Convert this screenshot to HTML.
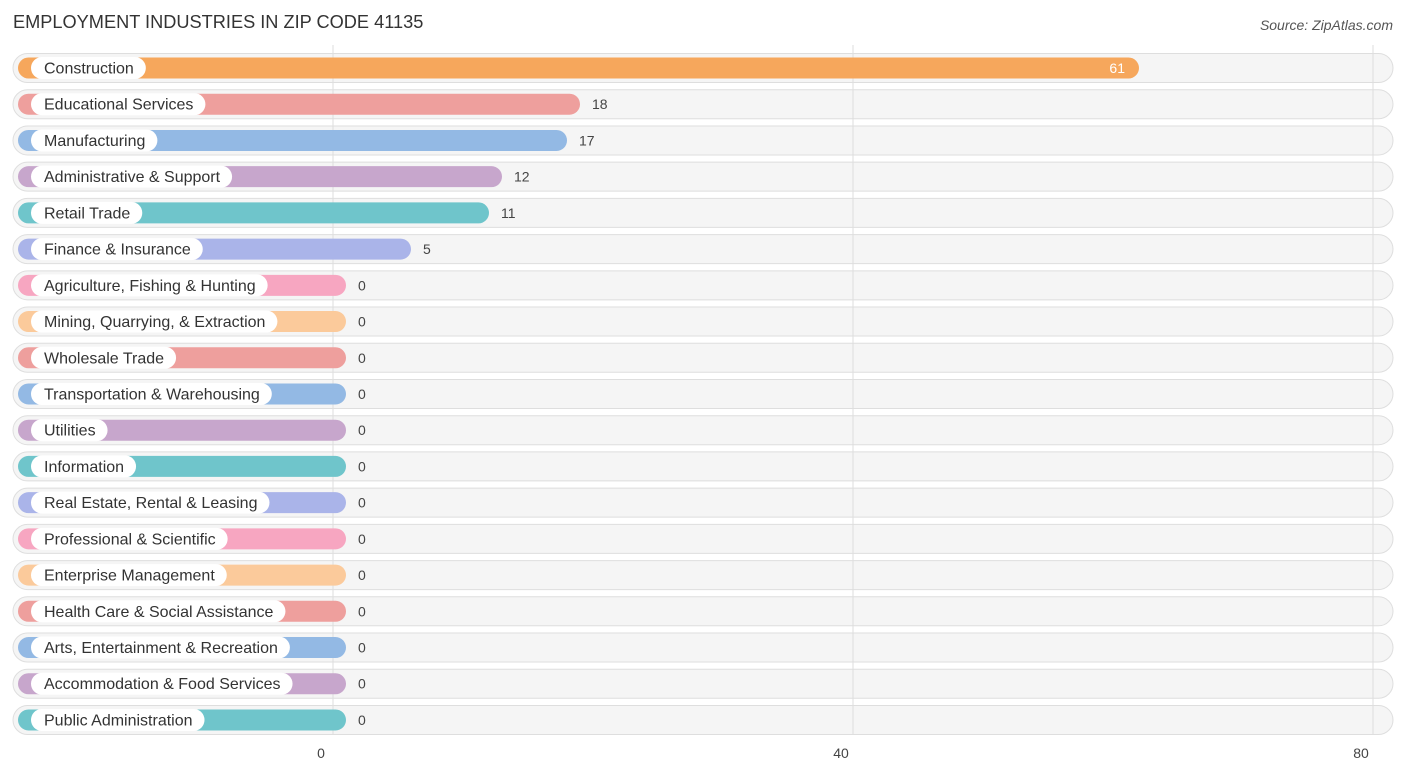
<!DOCTYPE html>
<html><head><meta charset="utf-8"><style>
html,body{margin:0;padding:0;background:#fff;}
body{width:1406px;height:776px;overflow:hidden;font-family:"Liberation Sans",sans-serif;}
</style></head><body>
<svg id="chart" width="1406" height="776" xmlns="http://www.w3.org/2000/svg" font-family="Liberation Sans, sans-serif">
<text x="13" y="28" font-size="18.2" fill="#333">EMPLOYMENT INDUSTRIES IN ZIP CODE 41135</text>
<text x="1393" y="30" font-size="14" fill="#555" text-anchor="end" font-style="italic">Source: ZipAtlas.com</text>
<g id="bgs"></g><g id="grid"></g><g id="rows"></g><g id="ticks"></g>
</svg>
<script>
const categories=["Construction","Educational Services","Manufacturing","Administrative & Support","Retail Trade","Finance & Insurance","Agriculture, Fishing & Hunting","Mining, Quarrying, & Extraction","Wholesale Trade","Transportation & Warehousing","Utilities","Information","Real Estate, Rental & Leasing","Professional & Scientific","Enterprise Management","Health Care & Social Assistance","Arts, Entertainment & Recreation","Accommodation & Food Services","Public Administration"];
const values=[61,18,17,12,11,5,0,0,0,0,0,0,0,0,0,0,0,0,0];
const tickValues=[0,40,80];
const palette=["#f6a75c","#ee9f9d","#93b9e4","#c7a6cc","#6fc5cb","#aab4e9","#f7a6c1","#fbca9b"];
const NS="http://www.w3.org/2000/svg";
function x(v){return 333+v*13;}
function rowY(i){return 68+i*36.22;}
function mk(tag,attrs,parent){const e=document.createElementNS(NS,tag);for(const k in attrs)e.setAttribute(k,attrs[k]);parent.appendChild(e);return e;}
const bgs=document.getElementById('bgs'),grid=document.getElementById('grid'),rows=document.getElementById('rows'),ticks=document.getElementById('ticks');
tickValues.forEach(t=>{
  const l=mk('line',{x1:x(t),x2:x(t),y1:45,y2:735,stroke:'#ddd','stroke-width':1},grid);
  
  
  const tx=mk('text',{x:x(t)-12,y:758,'font-size':14,fill:'#444','text-anchor':'middle'},ticks);
  tx.textContent=t;
  
  
});
categories.forEach((c,i)=>{
  const cy=rowY(i);
  const colr=i===0?palette[0]:palette[((i-1)%7)+1];
  const bg=mk('rect',{x:13,y:cy-14.5,width:1380,height:29,rx:14.5,fill:'#f5f5f5',stroke:'#dedede','stroke-width':1},bgs);
  
  
  const g=mk('g',{},rows);
  
  
  const end=x(values[i])+13;
  const bar=mk('rect',{x:18,y:cy-10.5,width:end-18,height:21,rx:10.5,fill:colr},g);
  
  
  const lbl=mk('text',{x:44,y:cy+5.5,'font-size':16,fill:'#333'},g);
  lbl.textContent=c;
  
  
  const w=lbl.getComputedTextLength();
  const pill=mk('rect',{x:31,y:cy-11,width:w+25,height:22,rx:11,fill:'#fff'},g);
  
  
  g.insertBefore(pill,lbl);
  const inside=values[i]>40;
  const v=mk('text',{x:inside?end-14:end+12,y:cy+5,'font-size':14,fill:inside?'#fff':'#444','text-anchor':inside?'end':'start'},g);
  v.textContent=values[i];
  
  
});
</script>
</body></html>
